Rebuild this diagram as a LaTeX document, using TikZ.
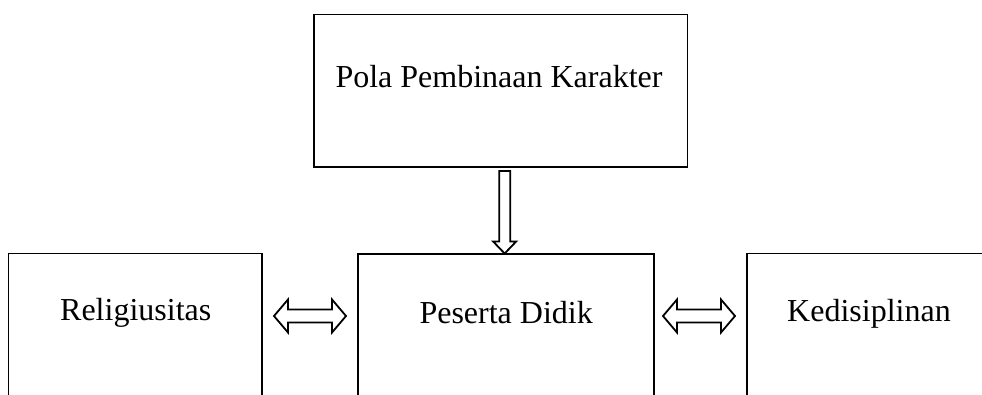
\documentclass[tikz,border=0pt]{standalone}
\usepackage{fontspec}
\setmainfont{Liberation Serif}
\usetikzlibrary{calc}
\tikzset{
  box/.style={draw=black, line width=1.9pt, rectangle, inner sep=0pt, outer sep=0pt, fill=none},
  lbl/.style={anchor=base, inner sep=0pt, font=\fontsize{32}{38}\selectfont},
  arr/.style={draw=black, line width=1.8pt, line join=miter, fill=white}
}
\newcommand{\hdarrow}[2]{%
  \draw[arr] (#1) -- ($(#1)+(14,-16.5)$) -- ($(#1)+(14,-6.5)$) -- ($(#2)+(-14,-6.5)$) -- ($(#2)+(-14,-16.5)$) -- (#2) -- ($(#2)+(-14,16.5)$) -- ($(#2)+(-14,6.5)$) -- ($(#1)+(14,6.5)$) -- ($(#1)+(14,16.5)$) -- cycle;}
\begin{document}
\begin{tikzpicture}[x=1pt,y=-1pt]
\useasboundingbox (0,0) rectangle (982,394);
\clip (0,0) rectangle (982,394);
\fill[white] (0,0) rectangle (982,394);
% boxes
\node[box, minimum width=373.5pt, minimum height=152.2pt] (top) at (500.75,90.6) {};
\node[box, minimum width=253.5pt, minimum height=176.5pt] (left) at (135.25,341.75) {};
\node[box, minimum width=295.7pt, minimum height=176pt] (mid) at (506.15,342) {};
\node[box, minimum width=244pt, minimum height=176.5pt] (right) at (869,341.75) {};
% labels
\node[lbl] (tl) at ($(top.north)+(-1.75,72.5)$) {Pola Pembinaan Karakter};
\node[lbl] (ll) at ($(left.north)+(0.5,66.5)$) {Religiusitas};
\node[lbl] (ml) at ($(mid.north)+(0,69)$) {Peserta Didik};
\node[lbl] (rl) at ($(right.north)+(0,67.5)$) {Kedisiplinan};
% down arrow
\coordinate (dtop) at ($(top.south -| mid.north)+(-1.5,4.3)$);
\coordinate (dtip) at ($(mid.north)+(-1.5,-0.5)$);
\draw[arr] ($(dtop)+(-5.5,0)$) -- ($(dtop)+(5.5,0)$) -- ($(dtip |- 0,241.5)+(5.5,0)$) -- ($(dtip |- 0,241.5)+(11.5,0)$) -- (dtip) -- ($(dtip |- 0,241.5)+(-11.5,0)$) -- ($(dtip |- 0,241.5)+(-5.5,0)$) -- cycle;
% horizontal double arrows
\coordinate (a1) at ($(left.east)+(12,-25.75)$);
\coordinate (b1) at ($(mid.west)+(-12.3,-26)$);
\coordinate (a2) at ($(mid.east)+(9,-26)$);
\coordinate (b2) at ($(right.west)+(-12,-25.75)$);
\hdarrow{a1}{b1}
\hdarrow{a2}{b2}
\end{tikzpicture}
\end{document}
